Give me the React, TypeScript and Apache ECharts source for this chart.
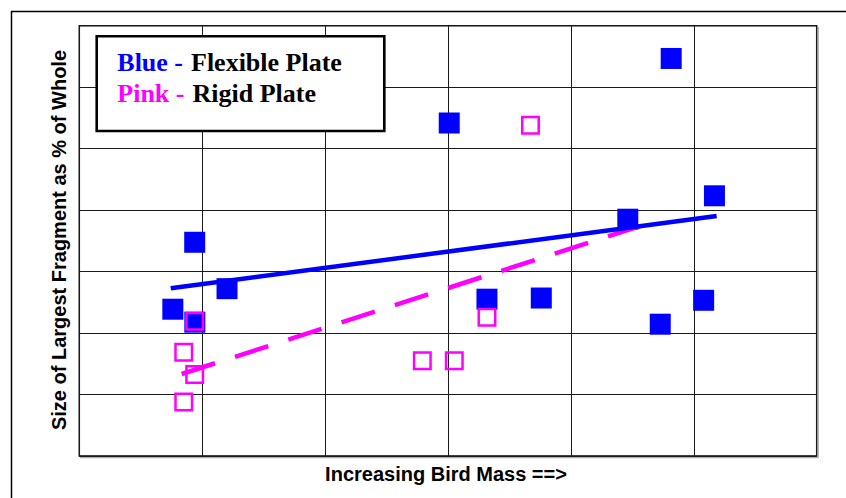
import React, { useEffect, useRef } from "react";
import * as echarts from "echarts";

// Flexible plate (blue filled squares)
const blueX = [3.01, 4.816, 5.168, 4.463, 0.939, 1.202, 0.761, 0.94, 3.317, 3.759, 4.727, 5.08];
const blueY = [5.417, 6.467, 4.233, 3.852, 3.477, 2.722, 2.388, 2.177, 2.551, 2.57, 2.144, 2.533];

// Rigid plate (pink hollow squares)
const pinkX = [3.671, 3.317, 2.791, 3.051, 0.939, 0.85, 0.939, 0.85];
const pinkY = [5.38, 2.256, 1.55, 1.55, 2.193, 1.689, 1.326, 0.878];

// Trend line end points
const blueTrendX = [0.744, 5.186];
const blueTrendY = [2.728, 3.904];
const pinkTrendX = [0.833, 4.562];
const pinkTrendY = [1.334, 3.74];

const xTitle = "Increasing Bird Mass ==>";
const yTitle = "Size of Largest Fragment as % of Whole";

const zip = (xs: number[], ys: number[]) => xs.map((x, i) => [x, ys[i]]);

export default function App() {
  const ref = useRef<HTMLDivElement>(null);
  useEffect(() => {
    if (!ref.current) return;
    const chart = echarts.init(ref.current, undefined, { renderer: "svg" });
    const serifBold = "'Liberation Serif', 'Times New Roman', serif";
    const sansBold = "'Liberation Sans', Arial, sans-serif";
    chart.setOption({
      animation: false,
      backgroundColor: "#ffffff",
      grid: {
        left: 79.3,
        top: 25.7,
        right: 846 - 816.7,
        bottom: 498 - 456,
        show: true,
        borderColor: "#000000",
        borderWidth: 1.5,
        backgroundColor: "transparent",
      },
      xAxis: {
        type: "value",
        min: 0,
        max: 6,
        interval: 1,
        axisLine: { show: false },
        axisTick: { show: false },
        axisLabel: { show: false },
        splitLine: { show: true, lineStyle: { color: "#1a1a1a", width: 1 } },
      },
      yAxis: {
        type: "value",
        min: 0,
        max: 7,
        interval: 1,
        axisLine: { show: false },
        axisTick: { show: false },
        axisLabel: { show: false },
        splitLine: { show: true, lineStyle: { color: "#1a1a1a", width: 1 } },
      },
      series: [
        {
          name: "Rigid trend",
          type: "line",
          data: zip(pinkTrendX, pinkTrendY),
          symbol: "none",
          silent: true,
          lineStyle: { color: "#ff00ff", width: 4.5, type: [35, 21], cap: "butt" },
        },
        {
          name: "Flexible trend",
          type: "line",
          data: zip(blueTrendX, blueTrendY),
          symbol: "none",
          silent: true,
          lineStyle: { color: "#0000ff", width: 4.5 },
        },
        {
          name: "Flexible Plate",
          type: "scatter",
          data: zip(blueX, blueY),
          symbol: "rect",
          symbolSize: 21,
          silent: true,
          itemStyle: { color: "#0000ff", opacity: 1 },
        },
        {
          name: "Rigid Plate",
          type: "scatter",
          data: zip(pinkX, pinkY),
          symbol: "rect",
          symbolSize: 16.5,
          silent: true,
          itemStyle: {
            color: "rgba(255,255,255,0)",
            borderColor: "#ff00ff",
            borderWidth: 2.5,
            opacity: 1,
          },
        },
      ],
      graphic: [
        {
          type: "rect",
          z: 100,
          silent: true,
          shape: { x: 11.5, y: 11.5, width: 1000, height: 700 },
          style: { fill: "none", stroke: "#000000", lineWidth: 1.5 },
        },
        {
          type: "line",
          z: 1,
          silent: true,
          shape: { x1: 818.3, y1: 27, x2: 818.3, y2: 457.5 },
          style: { stroke: "#b0b0b0", lineWidth: 1.2 },
        },
        {
          type: "line",
          z: 1,
          silent: true,
          shape: { x1: 80, y1: 457.6, x2: 818.5, y2: 457.6 },
          style: { stroke: "#b0b0b0", lineWidth: 1.2 },
        },
        {
          type: "rect",
          z: 100,
          silent: true,
          shape: { x: 96.7, y: 36.2, width: 287.6, height: 94.8 },
          style: { fill: "#ffffff", stroke: "#000000", lineWidth: 2.6 },
        },
        {
          type: "text",
          z: 101,
          silent: true,
          x: 117.3,
          y: 62.8,
          style: {
            text: "Blue -",
            fill: "#0000ff",
            font: `bold 26px ${serifBold}`,
            align: "left",
            verticalAlign: "middle",
          },
        },
        {
          type: "text",
          z: 101,
          silent: true,
          x: 191,
          y: 62.8,
          style: {
            text: "Flexible Plate",
            fill: "#000000",
            font: `bold 26px ${serifBold}`,
            align: "left",
            verticalAlign: "middle",
          },
        },
        {
          type: "text",
          z: 101,
          silent: true,
          x: 117.3,
          y: 93.8,
          style: {
            text: "Pink -",
            fill: "#ff00ff",
            font: `bold 26px ${serifBold}`,
            align: "left",
            verticalAlign: "middle",
          },
        },
        {
          type: "text",
          z: 101,
          silent: true,
          x: 192.5,
          y: 93.8,
          style: {
            text: "Rigid Plate",
            fill: "#000000",
            font: `bold 26px ${serifBold}`,
            align: "left",
            verticalAlign: "middle",
          },
        },
        {
          type: "text",
          z: 101,
          silent: true,
          x: 446,
          y: 473.5,
          style: {
            text: xTitle,
            fill: "#000000",
            font: `bold 20px ${sansBold}`,
            align: "center",
            verticalAlign: "middle",
          },
        },
        {
          type: "text",
          z: 101,
          silent: true,
          x: 59.2,
          y: 240,
          rotation: Math.PI / 2,
          style: {
            text: yTitle,
            fill: "#000000",
            font: `bold 20px ${sansBold}`,
            align: "center",
            verticalAlign: "middle",
          },
        },
      ],
    });
    return () => chart.dispose();
  }, []);
  return (
    <div
      ref={ref}
      style={{ position: "absolute", left: 0, top: 0, width: 846, height: 498, background: "#fff" }}
    />
  );
}
